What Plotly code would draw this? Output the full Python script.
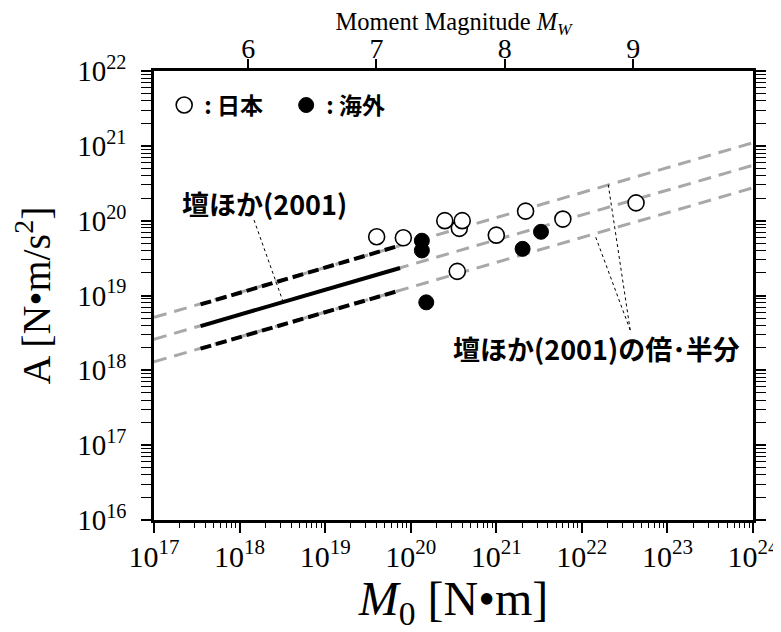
import plotly.graph_objects as go

# Observed events: seismic moment M0 [N m] and acceleration source spectrum level A [N m/s^2]
japan_m0 = [4.0e19, 8.2e19, 2.5e20, 3.7e20, 4.0e20, 3.5e20, 1.0e21, 2.2e21, 6.0e21, 4.3e22]
japan_a = [6.1e19, 5.9e19, 1.0e20, 7.9e19, 1.0e20, 2.1e19, 6.4e19, 1.34e20, 1.05e20, 1.73e20]

overseas_m0 = [1.35e20, 1.35e20, 1.52e20, 2.03e21, 3.33e21]
overseas_a = [5.4e19, 4.0e19, 8.1e18, 4.2e19, 7.1e19]

# Dan et al. (2001) relation (A ~ M0^(1/3)), extended over the full axis, and its x2 / x0.5
dan_ext_m0 = [1e17, 1e24]
dan_ext_mid = [2.6e18, 5.5e20]
dan_ext_double = [5.1e18, 1.1e21]
dan_ext_half = [1.3e18, 2.75e20]

# original range of the relation
dan_m0 = [3.5e17, 7.5e19]
dan_mid = [3.9e18, 2.33e19]
dan_double = [7.6e18, 4.66e19]
dan_half = [1.95e18, 1.17e19]

x_tick_exp = [17, 18, 19, 20, 21, 22, 23, 24]
y_tick_exp = [16, 17, 18, 19, 20, 21, 22]
mw_ticks = [6, 7, 8, 9]

serif = "Liberation Serif, Times New Roman, serif"
gothic = "Noto Sans CJK JP, sans-serif"

fig = go.Figure()

for ys in [dan_ext_double, dan_ext_mid, dan_ext_half]:
    fig.add_trace(go.Scatter(
        x=dan_ext_m0, y=ys, mode="lines", showlegend=False,
        line=dict(color="#a8a8a8", width=3, dash="13px,8px"),
    ))

for ys in [dan_double, dan_half]:
    fig.add_trace(go.Scatter(
        x=dan_m0, y=ys, mode="lines", showlegend=False,
        line=dict(color="black", width=4, dash="11px,5px"),
    ))
fig.add_trace(go.Scatter(
    x=dan_m0, y=dan_mid, mode="lines", showlegend=False,
    line=dict(color="black", width=4),
))

fig.add_trace(go.Scatter(
    x=japan_m0, y=japan_a, mode="markers", name=": 日本",
    marker=dict(symbol="circle", size=16, color="white", line=dict(color="black", width=1.6)),
))
fig.add_trace(go.Scatter(
    x=overseas_m0, y=overseas_a, mode="markers", name=": 海外",
    marker=dict(symbol="circle", size=15, color="black", line=dict(color="black", width=1)),
))

# empty trace so the Mw axis on top gets drawn
fig.add_trace(go.Scatter(
    x=mw_ticks, y=[None] * len(mw_ticks), xaxis="x2", yaxis="y",
    mode="markers", showlegend=False, hoverinfo="skip",
))

# leader lines for the labels (paper coordinates)
leaders = [
    ((0.167, 0.668), (0.215, 0.488)),
    ((0.795, 0.423), (0.758, 0.750)),
    ((0.795, 0.423), (0.736, 0.635)),
]
for (x0, y0), (x1, y1) in leaders:
    fig.add_shape(type="line", xref="paper", yref="paper", x0=x0, y0=y0, x1=x1, y1=y1,
                  line=dict(color="black", width=1, dash="dot"))

fig.add_annotation(x=0.184, y=0.706, xref="paper", yref="paper", text="壇ほか(2001)",
                   xanchor="center", yanchor="middle", showarrow=False,
                   font=dict(family=gothic, size=27, color="black", weight="bold"))
fig.add_annotation(x=0.738, y=0.383, xref="paper", yref="paper", text="壇ほか(2001)の倍･半分",
                   xanchor="center", yanchor="middle", showarrow=False,
                   font=dict(family=gothic, size=27, color="black", weight="bold"))

# the page adds an 8px body margin, so the figure is sized to fit the 781x632 window
fig.update_layout(
    width=773, height=624,
    margin=dict(l=146, r=28, t=63, b=112),
    plot_bgcolor="white", paper_bgcolor="white",
    font=dict(family=serif, color="black"),
    showlegend=True,
    legend=dict(
        orientation="h", x=0.017, y=0.972, xanchor="left", yanchor="top",
        bgcolor="rgba(0,0,0,0)",
        font=dict(family=gothic, size=23, color="black", weight="bold"),
        itemwidth=30, entrywidth=77, entrywidthmode="pixels",
    ),
    xaxis=dict(
        type="log", range=[17, 24], automargin=False,
        tickvals=[10.0 ** e for e in x_tick_exp],
        ticktext=["10<sup>%d</sup>" % e for e in x_tick_exp],
        ticks="outside", ticklen=10, tickwidth=1.8, tickcolor="black",
        minor=dict(ticks="outside", ticklen=5, tickwidth=1.3, dtick="D1", tickcolor="black"),
        showline=True, linewidth=2.5, linecolor="black", mirror=True,
        showgrid=False, zeroline=False,
        tickfont=dict(family=serif, size=30), ticklabelstandoff=-2,
        title=dict(text="<i>M</i><sub>0</sub> [N•m]", font=dict(family=serif, size=48), standoff=2),
    ),
    xaxis2=dict(
        overlaying="x", side="top", anchor="y", automargin=False,
        range=[(17 - 9.1) / 1.5, (24 - 9.1) / 1.5],
        tickvals=mw_ticks,
        ticks="outside", ticklen=9, tickwidth=1.8, tickcolor="black",
        showline=True, linewidth=2.5, linecolor="black",
        showgrid=False, zeroline=False,
        tickfont=dict(family=serif, size=28), ticklabelstandoff=-10,
        title=dict(text="Moment Magnitude <i>M<sub>W</sub></i>", font=dict(family=serif, size=24.5), standoff=2),
    ),
    yaxis=dict(
        type="log", range=[16, 22], automargin=False,
        tickvals=[10.0 ** e for e in y_tick_exp],
        ticktext=["10<sup>%d</sup>" % e for e in y_tick_exp],
        ticks="outside", ticklen=10, tickwidth=1.8, tickcolor="black",
        minor=dict(ticks="outside", ticklen=5, tickwidth=1.3, dtick="D1", tickcolor="black"),
        showline=True, linewidth=2.5, linecolor="black", mirror="allticks",
        showgrid=False, zeroline=False,
        tickfont=dict(family=serif, size=29), ticklabelstandoff=9,
        title=dict(text="A [N•m/s<sup>2</sup>]", font=dict(family=serif, size=40), standoff=22),
    ),
)

fig.write_html("out.html")
